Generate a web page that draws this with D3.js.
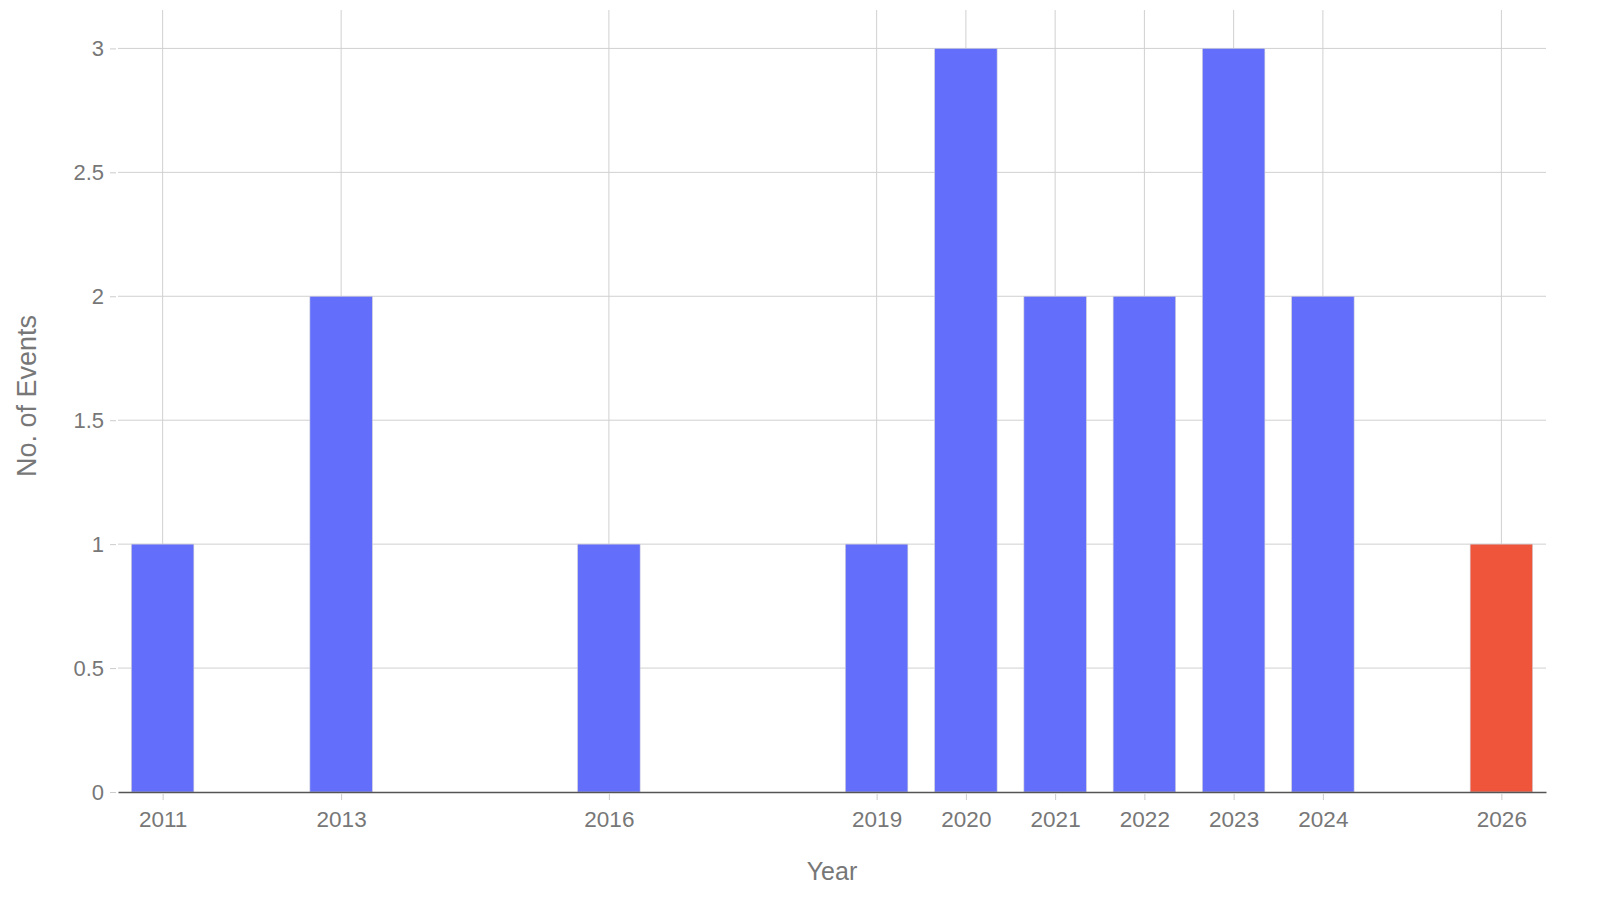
<!DOCTYPE html>
<html>
<head>
<meta charset="utf-8">
<script src="https://cdn.jsdelivr.net/npm/d3@7"></script>
<style>
  body { margin: 0; background: #fff; }
  svg { display: block; font-family: "Liberation Sans", Arial, sans-serif; }
</style>
</head>
<body>
<script>
// data
const years = [2011, 2013, 2016, 2019, 2020, 2021, 2022, 2023, 2024, 2026];
const events = [1, 2, 1, 1, 3, 2, 2, 3, 2, 1];
const highlightYear = 2026;
const yTicks = [0, 0.5, 1, 1.5, 2, 2.5, 3];

const width = 1600, height = 899;
const margin = {left: 118, right: 54, top: 10, bottom: 107};

const svg = d3.select('body').append('svg')
    .attr('width', width)
    .attr('height', height);

const x = d3.scaleLinear()
    .domain([2010.5, 2026.5])
    .range([margin.left, width - margin.right]);

const y = d3.scaleLinear()
    .domain([0, 3.155])
    .range([height - margin.bottom, margin.top]);

const barW = (x(1) - x(0)) * 0.7;

// grid lines
svg.append('g').selectAll('line')
    .data(yTicks.filter(d => d > 0))
    .enter()
  .append('line')
    .attr('x1', margin.left)
    .attr('x2', width - margin.right)
    .attr('y1', d => y(d))
    .attr('y2', d => y(d))
    .attr('stroke', '#d0d0d0')
    .attr('stroke-width', 1);

svg.append('g').selectAll('line')
    .data(years)
    .enter()
  .append('line')
    .attr('x1', d => x(d))
    .attr('x2', d => x(d))
    .attr('y1', margin.top)
    .attr('y2', y(0))
    .attr('stroke', '#d0d0d0')
    .attr('stroke-width', 1);

// bars
svg.append('g').selectAll('rect')
    .data(years)
    .enter()
  .append('rect')
    .attr('x', d => x(d) - barW / 2)
    .attr('width', barW)
    .attr('y', (d, i) => y(events[i]))
    .attr('height', (d, i) => y(0) - y(events[i]))
    .attr('fill', d => d === highlightYear ? '#ef553b' : '#636efa')
    .attr('stroke', '#d0d0d8')
    .attr('stroke-width', 0.6);

// y axis
const yAxis = svg.append('g')
    .attr('transform', `translate(${margin.left - 2},0)`)
    .call(d3.axisLeft(y).tickValues(yTicks).tickSize(6).tickPadding(6)
      .tickFormat(d => d3.format('~g')(d)));
yAxis.select('.domain').remove();
yAxis.selectAll('line').attr('stroke', '#cccccc');
yAxis.selectAll('text')
    .attr('fill', '#777')
    .style('font-size', '22px');

// x axis
const xAxis = svg.append('g')
    .attr('transform', `translate(0,${y(0)})`)
    .call(d3.axisBottom(x).tickValues(years).tickFormat(d3.format('d'))
      .tickSize(8).tickSizeOuter(0).tickPadding(11));
xAxis.select('.domain').attr('stroke', '#555').attr('stroke-width', 1.5);
xAxis.selectAll('.tick line').attr('stroke', '#cccccc').attr('y1', 2);
xAxis.selectAll('text')
    .attr('fill', '#777')
    .style('font-size', '22.5px');

// axis titles
svg.append('text')
    .attr('x', (margin.left + width - margin.right) / 2)
    .attr('y', 880)
    .attr('text-anchor', 'middle')
    .attr('fill', '#777')
    .style('font-size', '25px')
    .text('Year');

svg.append('text')
    .attr('transform', `translate(36,${(margin.top + y(0)) / 2 - 5}) rotate(-90)`)
    .attr('text-anchor', 'middle')
    .attr('fill', '#777')
    .style('font-size', '27px')
    .text('No. of Events');
</script>
</body>
</html>
